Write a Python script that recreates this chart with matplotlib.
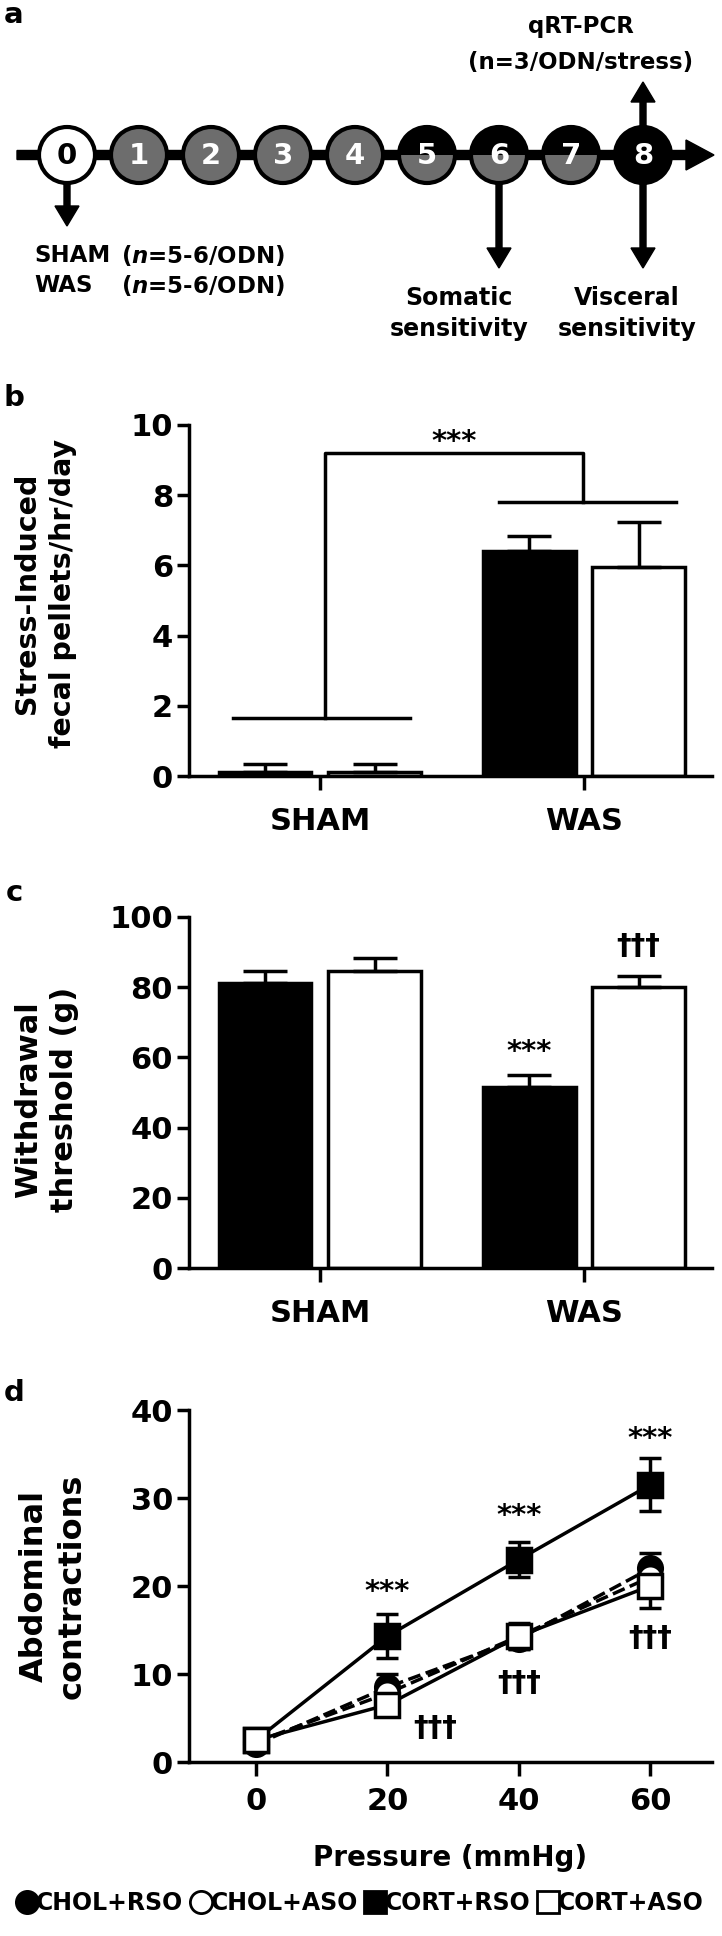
import matplotlib
matplotlib.use("Agg")
import matplotlib.pyplot as plt
from matplotlib.patches import Wedge, Circle
from matplotlib.lines import Line2D

plt.rcParams['font.family'] = ['DejaVu Sans']
plt.rcParams['font.weight'] = 'bold'
plt.rcParams['axes.labelweight'] = 'bold'
plt.rcParams['axes.linewidth'] = 2.5
plt.rcParams['mathtext.fontset'] = 'dejavusans'

# ---- data ----
days = [0, 1, 2, 3, 4, 5, 6, 7, 8]
day_top = ['white', 'gray', 'gray', 'gray', 'gray', 'black', 'black', 'black', 'black']
day_bot = ['white', 'gray', 'gray', 'gray', 'gray', 'gray', 'gray', 'gray', 'black']

groups = ['SHAM', 'WAS']
pellets_rso = [0.12, 6.4]
pellets_rso_err = [0.22, 0.45]
pellets_aso = [0.12, 5.95]
pellets_aso_err = [0.22, 1.3]

thresh_rso = [81.3, 51.6]
thresh_rso_err = [3.3, 3.4]
thresh_aso = [84.6, 80.1]
thresh_aso_err = [3.7, 3.1]

pressure = [0, 20, 40, 60]
chol_rso = [2.0, 8.5, 14.0, 22.0]
chol_rso_err = [0.5, 1.5, 1.2, 1.8]
chol_aso = [2.3, 7.8, 14.3, 21.0]
chol_aso_err = [0.5, 1.2, 1.0, 1.5]
cort_rso = [2.5, 14.3, 23.0, 31.5]
cort_rso_err = [0.6, 2.5, 2.0, 3.0]
cort_aso = [2.5, 6.5, 14.3, 20.0]
cort_aso_err = [0.6, 1.3, 1.5, 2.5]

star_x = [20, 40, 60]
star_y = [18.4, 27.1, 35.8]
dag_x = [27.3, 40, 60]
dag_y = [2.9, 8.1, 13.2]

GRAY = '#6d6d6d'
fill = {'white': 'white', 'gray': GRAY, 'black': 'black'}

fig = plt.figure(figsize=(7.22, 19.36), dpi=100)

# ---- panel a : timeline (pixel coordinates) ----
axa = fig.add_axes([0, 0, 1, 1])
axa.set_xlim(0, 722)
axa.set_ylim(1936, 0)
axa.axis('off')
axa.patch.set_alpha(0)

x0, step, ty, r = 67, 72, 155, 28
def dx(d):
    return x0 + step * d

axa.arrow(17, ty, 697, 0, width=9, head_width=30, head_length=28,
          length_includes_head=True, color='black', zorder=1)
for d, tip in [(0, 226), (6, 268), (8, 268)]:
    axa.arrow(dx(d), ty + r, 0, tip - ty - r, width=6, head_width=24, head_length=20,
              length_includes_head=True, color='black', zorder=1)
axa.arrow(dx(8), ty - r, 0, 82 - ty + r, width=6, head_width=24, head_length=20,
          length_includes_head=True, color='black', zorder=1)

for d, tc, bc in zip(days, day_top, day_bot):
    axa.add_patch(Wedge((dx(d), ty), r, 180, 360, facecolor=fill[tc], edgecolor='none', zorder=2))
    axa.add_patch(Wedge((dx(d), ty), r, 0, 180, facecolor=fill[bc], edgecolor='none', zorder=2))
    axa.add_patch(Circle((dx(d), ty), r, facecolor='none', edgecolor='black', lw=3, zorder=3))
    axa.text(dx(d), ty + 1, str(d), ha='center', va='center', fontsize=21,
             color='black' if d == 0 else 'white', zorder=4)

axa.text(581, 27, 'qRT-PCR', ha='center', va='center', fontsize=16.5)
axa.text(581, 62, '(n=3/ODN/stress)', ha='center', va='center', fontsize=16.5)
axa.text(34, 255, 'SHAM', ha='left', va='center', fontsize=16.5)
axa.text(34, 285, 'WAS', ha='left', va='center', fontsize=16.5)
axa.text(121, 255, r'($\mathbfit{n}$=5-6/ODN)', ha='left', va='center', fontsize=16.5)
axa.text(121, 285, r'($\mathbfit{n}$=5-6/ODN)', ha='left', va='center', fontsize=16.5)
axa.text(459, 298, 'Somatic', ha='center', va='center', fontsize=17)
axa.text(459, 329, 'sensitivity', ha='center', va='center', fontsize=17)
axa.text(627, 298, 'Visceral', ha='center', va='center', fontsize=17)
axa.text(627, 329, 'sensitivity', ha='center', va='center', fontsize=17)

for lab, yy in zip('abcd', [15, 398, 893, 1393]):
    axa.text(14, yy, lab, ha='center', va='center', fontsize=21)

W, H = 722, 1936
def add_ax(top, bottom):
    return fig.add_axes([189 / W, 1 - bottom / H, (712 - 189) / W, (bottom - top) / H])

def style(ax, xlen=10):
    for s in ['top', 'right']:
        ax.spines[s].set_visible(False)
    ax.tick_params(axis='y', direction='out', length=8.5, width=2.5, pad=3, labelsize=22)
    ax.tick_params(axis='x', direction='out', length=xlen, width=2.5, pad=12, labelsize=22)

xpos = [0, 1]
bw, off = 0.35, 0.207
ekw = dict(elinewidth=2.5, capthick=2.5)

# ---- panel b ----
axb = add_ax(425, 776)
axb.bar([x - off for x in xpos], pellets_rso, bw, color='black', edgecolor='black', lw=2.5,
        yerr=[[0, 0], pellets_rso_err], capsize=16, error_kw=ekw)
axb.bar([x + off for x in xpos], pellets_aso, bw, color='white', edgecolor='black', lw=2.5,
        yerr=[[0, 0], pellets_aso_err], capsize=16, error_kw=ekw)
axb.set_xlim(-0.496, 1.485)
axb.set_ylim(0, 10)
axb.set_yticks([0, 2, 4, 6, 8, 10])
axb.set_xticks(xpos)
axb.set_xticklabels(groups)
style(axb)
axb.plot([-0.33, 0.34], [1.65, 1.65], color='black', lw=2.5)
axb.plot([0.68, 1.35], [7.8, 7.8], color='black', lw=2.5)
axb.plot([0.02, 0.02, 0.996, 0.996], [1.65, 9.2, 9.2, 7.8], color='black', lw=2.5)
axb.text(0.51, 9.3, '***', ha='center', va='baseline', fontsize=21)
axb.set_ylabel('Stress-Induced\nfecal pellets/hr/day', fontsize=20.5, va='center', linespacing=1.35)
axb.yaxis.set_label_coords(-0.275, 0.52)

# ---- panel c ----
axc = add_ax(917, 1268)
axc.bar([x - off for x in xpos], thresh_rso, bw, color='black', edgecolor='black', lw=2.5,
        yerr=[[0, 0], thresh_rso_err], capsize=16, error_kw=ekw)
axc.bar([x + off for x in xpos], thresh_aso, bw, color='white', edgecolor='black', lw=2.5,
        yerr=[[0, 0], thresh_aso_err], capsize=16, error_kw=ekw)
axc.set_xlim(-0.496, 1.485)
axc.set_ylim(0, 100)
axc.set_yticks([0, 20, 40, 60, 80, 100])
axc.set_xticks(xpos)
axc.set_xticklabels(groups)
style(axc)
axc.text(1 - off, 59.2, '***', ha='center', va='baseline', fontsize=21)
axc.text(1 + off, 89.4, '\u2020\u2020\u2020', ha='center', va='baseline', fontsize=21)
axc.set_ylabel('Withdrawal\nthreshold (g)', fontsize=22, va='center', linespacing=1.3)
axc.yaxis.set_label_coords(-0.272, 0.48)

# ---- panel d ----
axd = add_ax(1410, 1762)
series = [
    ('CHOL+RSO', chol_rso, chol_rso_err, 'o', 'black', '--'),
    ('CHOL+ASO', chol_aso, chol_aso_err, 'o', 'white', '--'),
    ('CORT+RSO', cort_rso, cort_rso_err, 's', 'black', '-'),
    ('CORT+ASO', cort_aso, cort_aso_err, 's', 'white', '-'),
]
for lab, y, e, m, fc, ls in series:
    axd.errorbar(pressure, y, yerr=e, fmt=m, ls=ls, color='black', mfc=fc, mec='black',
                 ms=17, mew=2.5, lw=2.5, capsize=8, capthick=2.5, elinewidth=2.5, label=lab)
axd.set_xlim(-10.2, 69.4)
axd.set_ylim(0, 40)
axd.set_xticks(pressure)
axd.set_yticks([0, 10, 20, 30, 40])
style(axd)
axd.tick_params(axis='x', pad=8)
for x, y in zip(star_x, star_y):
    axd.text(x, y, '***', ha='center', va='baseline', fontsize=21)
for x, y in zip(dag_x, dag_y):
    axd.text(x, y, '\u2020\u2020\u2020', ha='center', va='baseline', fontsize=21)
axd.set_ylabel('Abdominal\ncontractions', fontsize=23, va='center', linespacing=1.3)
axd.yaxis.set_label_coords(-0.26, 0.5)
axd.set_xlabel('Pressure (mmHg)', fontsize=20, labelpad=20)

handles = [Line2D([], [], ls='none', marker=m, mfc=fc, mec='black', mew=2, ms=16, color='black')
           for lab, y, e, m, fc, ls in series]
fig.legend(handles, [s[0] for s in series], loc='center', bbox_to_anchor=(0.5, 1 - 1903 / H),
           ncol=4, frameon=False, fontsize=17, handlelength=0.7, handletextpad=0.05,
           columnspacing=0.4, borderpad=0)

fig.savefig('out.png', dpi=100)
